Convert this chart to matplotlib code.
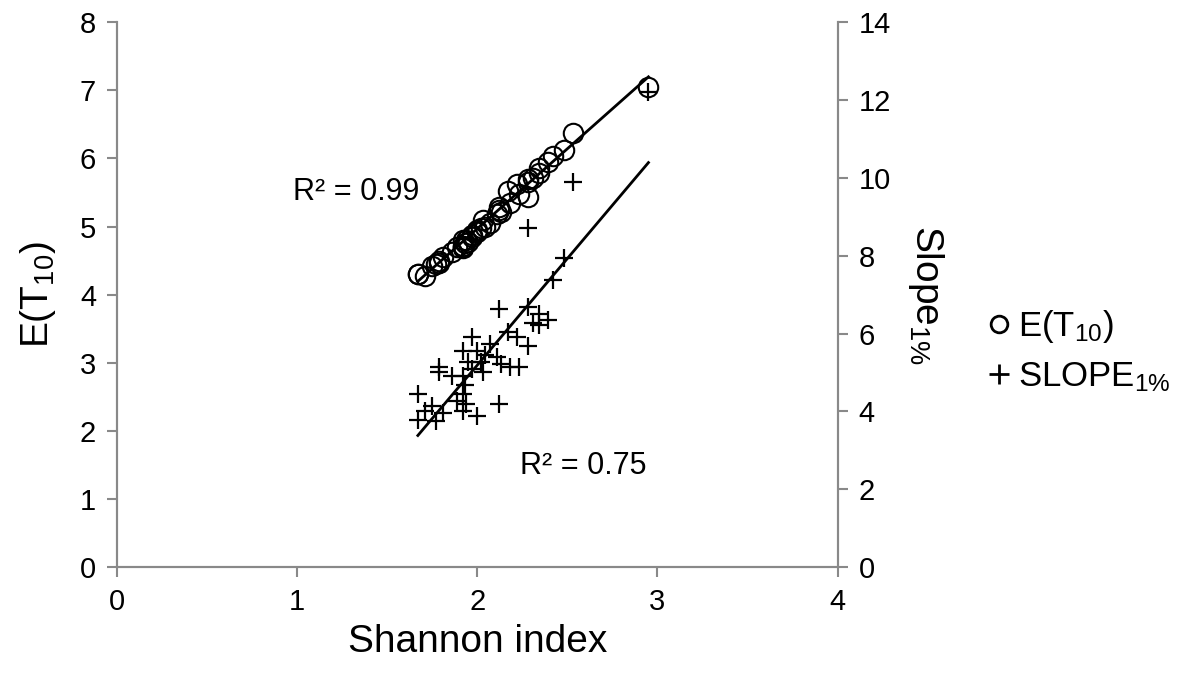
import numpy as np
import matplotlib
matplotlib.use("Agg")
import matplotlib.pyplot as plt
from matplotlib.lines import Line2D

plt.rcParams['font.family'] = ['Liberation Sans', 'DejaVu Sans']
plt.rcParams['mathtext.fontset'] = 'custom'
plt.rcParams['mathtext.rm'] = 'Liberation Sans'
plt.rcParams['mathtext.default'] = 'regular'

# Shannon index of each sample (shared by both series)
shannon = [2.95, 2.53, 2.48, 2.42, 2.28, 2.28, 2.34, 2.39, 2.31, 2.34,
           2.12, 2.17, 2.22, 2.28, 1.97, 2.07, 1.92, 2.00, 2.04, 2.11,
           1.95, 2.02, 2.13, 2.18, 2.23, 1.79, 1.79, 1.86, 1.92, 1.97,
           2.03, 1.93, 1.92, 1.67, 1.89, 1.94, 1.75, 1.71, 2.12, 1.81,
           1.92, 2.00, 1.67, 1.77]
# E(T10), left axis
e_t10 = [7.05, 6.37, 6.12, 6.03, 5.70, 5.66, 5.86, 5.95, 5.72, 5.78,
         5.28, 5.52, 5.62, 5.44, 4.85, 5.05, 4.72, 4.92, 5.00, 5.18,
         4.78, 4.98, 5.22, 5.35, 5.48, 4.50, 4.47, 4.62, 4.80, 4.88,
         5.10, 4.76, 4.70, 4.30, 4.70, 4.80, 4.42, 4.28, 5.25, 4.55,
         4.68, 4.95, 4.30, 4.45]
# SLOPE 1%, right axis
slope = [12.2, 9.9, 7.95, 7.38, 8.72, 6.67, 6.49, 6.36, 6.28, 6.23,
         6.62, 6.03, 5.90, 5.67, 5.92, 5.72, 5.54, 5.54, 5.46, 5.41,
         5.28, 5.28, 5.21, 5.15, 5.13, 5.15, 5.00, 4.90, 4.90, 5.08,
         5.00, 4.69, 4.44, 4.44, 4.26, 4.18, 4.13, 4.00, 4.18, 3.97,
         4.00, 3.87, 3.79, 3.74]

grey = '#898989'
x = np.array(shannon)
xs = np.array([x.min(), x.max()])

fig = plt.figure(figsize=(12, 6.75), dpi=100)
ax = fig.add_axes([0.0975, 0.16, 0.6005, 0.807])
ax2 = ax.twinx()

# E(T10) circles + trend
ax.plot(x, e_t10, linestyle='', marker='o', markersize=14, fillstyle='none',
        markeredgecolor='black', markeredgewidth=1.5, zorder=3)
p1 = np.polyfit(x, e_t10, 1)
ax.plot(xs, np.polyval(p1, xs), color='black', linewidth=2, zorder=4)

# SLOPE crosses + trend
ax2.plot(x, slope, linestyle='', marker='+', markersize=13, color='black',
         markeredgewidth=1.6, zorder=3)
p2 = np.polyfit(x, slope, 1)
ax2.plot(xs, np.polyval(p2, xs), color='black', linewidth=2, zorder=4)

ax.set_xlim(0, 4)
ax.set_ylim(0, 8)
ax2.set_ylim(0, 14)
ax.set_xticks(range(0, 5))
ax.set_yticks(range(0, 9))
ax2.set_yticks(range(0, 15, 2))

for a in (ax, ax2):
    a.spines['top'].set_visible(False)
    for side in ('left', 'right', 'bottom'):
        a.spines[side].set_color(grey)
        a.spines[side].set_linewidth(1.5)
    a.tick_params(direction='out', length=7, width=1.5, color=grey,
                  labelsize=21, labelcolor='black', pad=8)

ax.set_xlabel('Shannon index', fontsize=28, labelpad=6)
ax.set_ylabel(r'E(T$_{10}$)', fontsize=28, labelpad=16)
ax2.set_ylabel(r'Slope$_{1\%}$', fontsize=28, rotation=-90, labelpad=40)

ax.text(1.33, 5.51, 'R² = 0.99', fontsize=22, va='center', ha='center')
ax2.text(2.59, 2.59, 'R² = 0.75', fontsize=22, va='center', ha='center')

handles = [
    Line2D([], [], linestyle='', marker='o', markersize=12, fillstyle='none',
           markeredgecolor='black', markeredgewidth=2),
    Line2D([], [], linestyle='', marker='+', markersize=15, color='black',
           markeredgewidth=2),
]
fig.legend(handles, [r'E(T$_{10}$)', r'SLOPE$_{1\%}$'], loc='center left',
           bbox_to_anchor=(0.798, 0.48), frameon=False, fontsize=25,
           handlelength=0.6, handletextpad=0.25, labelspacing=0.45)

fig.savefig('out.png', dpi=100)
